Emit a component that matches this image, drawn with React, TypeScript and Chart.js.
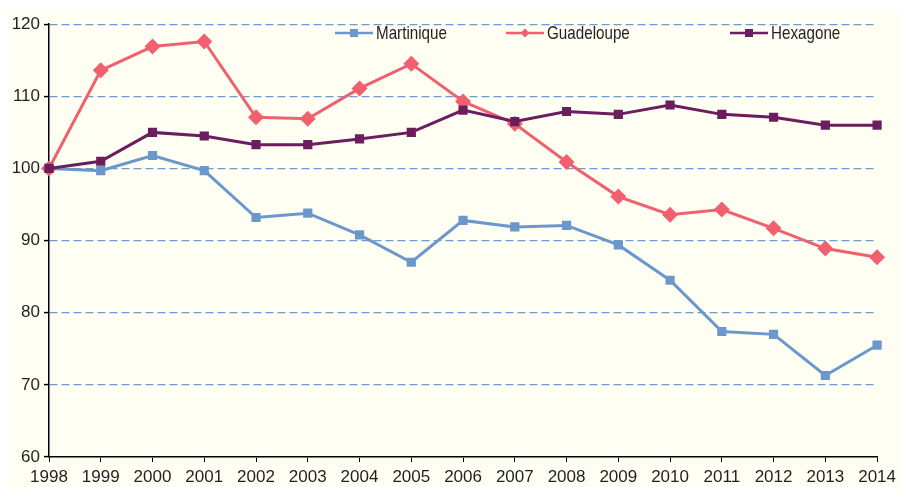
import React, { useEffect, useRef } from "react";
import { Chart, registerables } from "chart.js";

Chart.register(...registerables);

const years = ["1998","1999","2000","2001","2002","2003","2004","2005","2006","2007","2008","2009","2010","2011","2012","2013","2014"];
const martinique = [100, 99.7, 101.8, 99.7, 93.2, 93.8, 90.8, 87.0, 92.8, 91.9, 92.1, 89.4, 84.5, 77.4, 77.0, 71.3, 75.5];
const guadeloupe = [100, 113.6, 116.9, 117.6, 107.1, 106.9, 111.1, 114.5, 109.3, 106.2, 100.9, 96.1, 93.6, 94.3, 91.7, 88.9, 87.7];
const hexagone = [100, 101.0, 105.0, 104.5, 103.3, 103.3, 104.1, 105.0, 108.1, 106.5, 107.9, 107.5, 108.8, 107.5, 107.1, 106.0, 106.0];
const seriesNames = ["Martinique", "Guadeloupe", "Hexagone"];

const COLORS = ["#6a98cb", "#f0606e", "#6b1d5e"];
const FONT = "'Liberation Sans', Arial, Helvetica, sans-serif";

const legendPlugin = {
  id: "customLegend",
  afterDraw(chart: any) {
    const ctx = chart.ctx;
    const items = [
      { x: 327, name: seriesNames[0], color: COLORS[0], style: "rect" },
      { x: 498, name: seriesNames[1], color: COLORS[1], style: "rectRot" },
      { x: 722, name: seriesNames[2], color: COLORS[2], style: "rect" },
    ];
    const y = 23;
    ctx.save();
    items.forEach((it) => {
      ctx.strokeStyle = it.color;
      ctx.lineWidth = 2.5;
      ctx.beginPath();
      ctx.moveTo(it.x, y);
      ctx.lineTo(it.x + 38, y);
      ctx.stroke();
      ctx.fillStyle = it.color;
      const cx = it.x + 19;
      if (it.style === "rect") {
        ctx.fillRect(cx - 4, y - 4, 8, 8);
      } else {
        ctx.beginPath();
        ctx.moveTo(cx, y - 4.5);
        ctx.lineTo(cx + 4.5, y);
        ctx.lineTo(cx, y + 4.5);
        ctx.lineTo(cx - 4.5, y);
        ctx.closePath();
        ctx.fill();
      }
      ctx.save();
      ctx.translate(it.x + 41, y + 1);
      ctx.scale(0.8, 1);
      ctx.fillStyle = "#231f20";
      ctx.font = `19px ${FONT}`;
      ctx.textBaseline = "middle";
      ctx.textAlign = "left";
      ctx.fillText(it.name, 0, 0);
      ctx.restore();
    });
    ctx.restore();
  },
};

export default function App() {
  const ref = useRef<HTMLCanvasElement | null>(null);
  useEffect(() => {
    if (!ref.current) return;
    const chart = new Chart(ref.current, {
      type: "line",
      data: {
        labels: years,
        datasets: [
          {
            label: seriesNames[0],
            data: martinique,
            borderColor: COLORS[0],
            backgroundColor: COLORS[0],
            borderWidth: 3,
            pointStyle: "rect",
            pointRadius: 6.5,
            pointBorderWidth: 0,
            tension: 0,
            order: 3,
          },
          {
            label: seriesNames[1],
            data: guadeloupe,
            borderColor: COLORS[1],
            backgroundColor: COLORS[1],
            borderWidth: 3,
            pointStyle: "rectRot",
            pointRadius: 8,
            pointBorderWidth: 0,
            tension: 0,
            order: 2,
          },
          {
            label: seriesNames[2],
            data: hexagone,
            borderColor: COLORS[2],
            backgroundColor: COLORS[2],
            borderWidth: 3,
            pointStyle: "rect",
            pointRadius: 6.5,
            pointBorderWidth: 0,
            tension: 0,
            order: 1,
          },
        ],
      },
      options: {
        animation: false,
        responsive: false,
        maintainAspectRatio: false,
        layout: { padding: { top: 10, right: 21, left: 0, bottom: 0 } },
        plugins: { legend: { display: false }, tooltip: { enabled: false } },
        scales: {
          x: {
            type: "category",
            offset: false,
            grid: {
              drawOnChartArea: false,
              drawTicks: true,
              tickLength: 5,
              tickColor: "#000",
            },
            border: { display: true, color: "#000", width: 1.5 },
            ticks: {
              color: "#231f20",
              font: { family: FONT, size: 17 },
              padding: 5,
              maxRotation: 0,
              autoSkip: false,
            },
            afterFit: (s: any) => {
              s.height = 30;
            },
          },
          y: {
            min: 60,
            max: 120,
            ticks: {
              stepSize: 10,
              color: "#231f20",
              font: { family: FONT, size: 17 },
              padding: 4,
            },
            grid: {
              color: (c: any) => (c.tick && c.tick.value === 60 ? "rgba(0,0,0,0)" : "#6f9bd1"),
              lineWidth: 1.2,
              tickLength: 5,
              tickColor: "#000",
              tickBorderDash: [],
              tickWidth: 1.5,
            },
            border: { display: true, color: "#000", width: 1.5, dash: [8, 4] },
            afterFit: (s: any) => {
              s.width = 41;
            },
          },
        },
      },
      plugins: [legendPlugin],
    } as any);
    return () => chart.destroy();
  }, []);
  return (
    <div
      style={{
        position: "absolute",
        left: 8,
        top: 10,
        width: 893,
        height: 477,
        background: "#fefef3",
      }}
    >
      <canvas ref={ref} width={893} height={477} style={{ display: "block" }} />
    </div>
  );
}
